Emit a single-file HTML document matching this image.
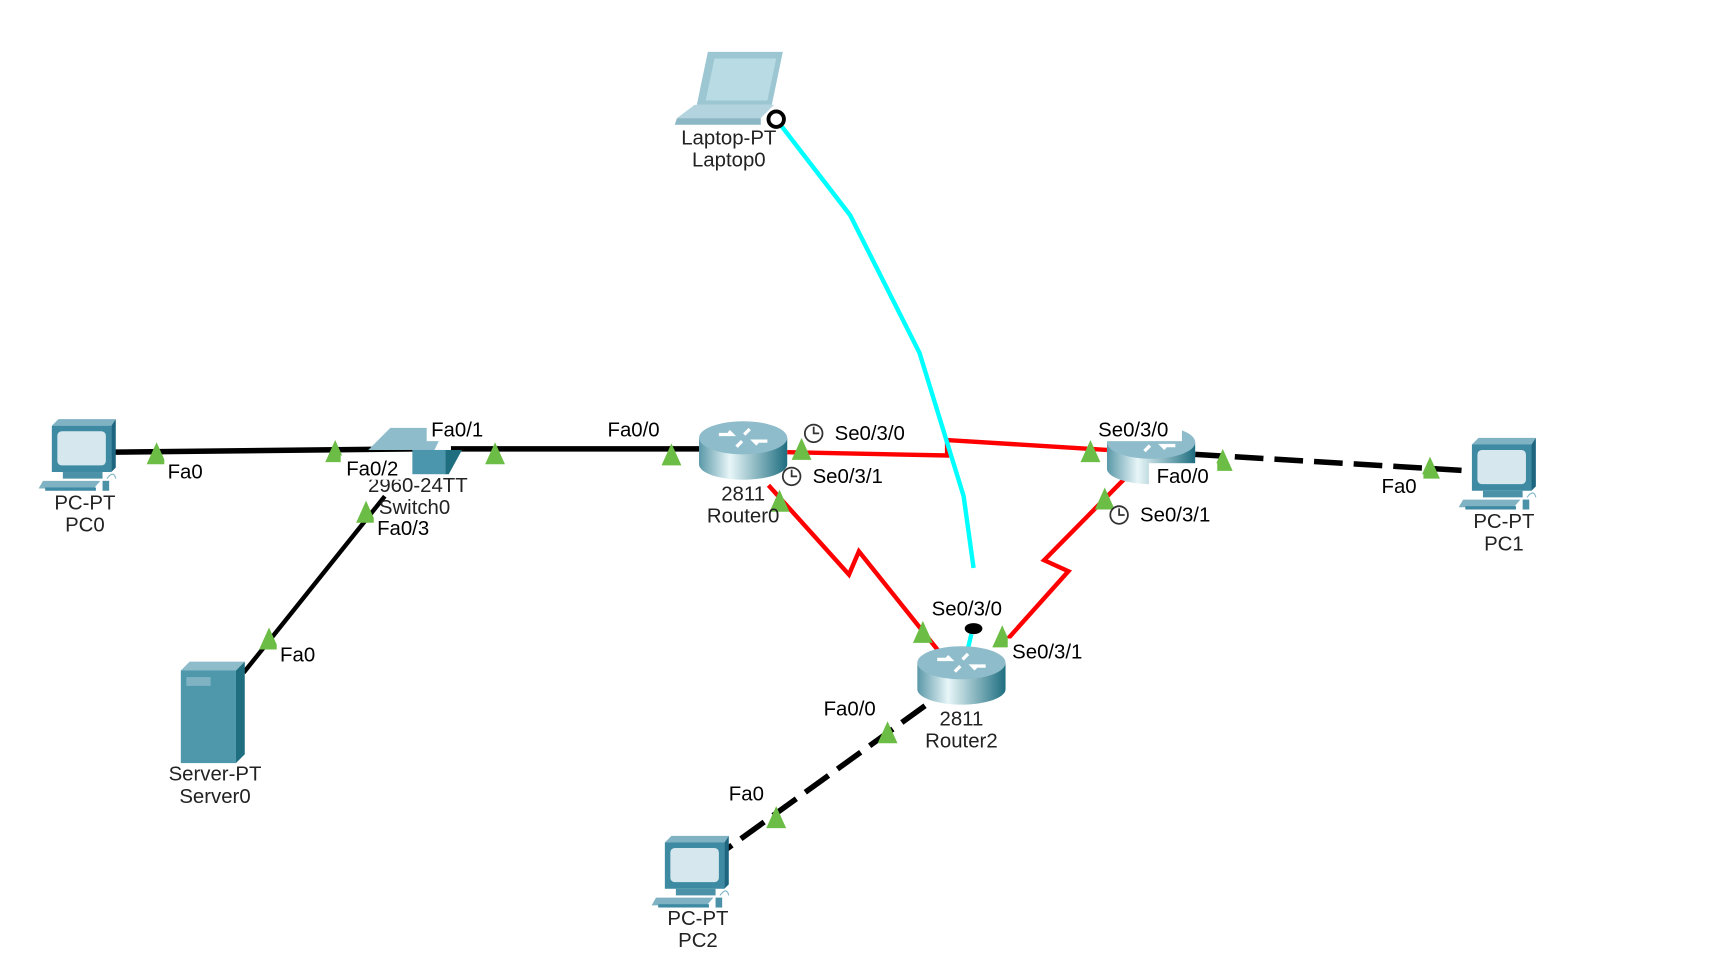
<!DOCTYPE html>
<html><head><meta charset="utf-8"><style>
html,body{margin:0;padding:0;background:#fff;width:1720px;height:976px;overflow:hidden}
svg{display:block}
text{font-family:"Liberation Sans",Arial,sans-serif;font-size:18.5px;fill:#222}
.lb{fill:#000}
</style></head><body>
<svg width="1720" height="976" viewBox="0 0 1560 885" xmlns="http://www.w3.org/2000/svg">
<defs>
<linearGradient id="rg" x1="0" x2="1" y1="0" y2="0">
<stop offset="0" stop-color="#5a98a8"/><stop offset="0.35" stop-color="#e8f6f8"/><stop offset="1" stop-color="#1e6e80"/>
</linearGradient>
<g id="router">
<path d="M-40,0 v24 a40,14 0 0,0 80,0 v-24 z" fill="url(#rg)"/>
<ellipse cx="0" cy="0" rx="40" ry="15" fill="#8fbccb"/>
<path d="M-22,-3 h12 l-3,-3 M22,3 h-12 l3,3 M6,-8 l-5,5 M-6,8 l5,-5" stroke="#fff" stroke-width="3" fill="none"/>
</g>
<g id="pc">
<path d="M0,4 l6,-6 h52 l-4,6 z" fill="#7fb3c4"/>
<rect x="0" y="4" width="54" height="42" fill="#3d8aa2"/>
<path d="M54,4 l4,-6 v44 l-4,4z" fill="#1e6680"/>
<rect x="5" y="9" width="44" height="31" rx="4" fill="#d6e8ee"/>
<rect x="10" y="46" width="36" height="6" fill="#4b91a8"/>
<path d="M-8,54 h52 l-6,7 h-50z" fill="#7fb3c4"/>
<rect x="-6" y="60" width="46" height="3" fill="#3d8aa2"/>
<rect x="46" y="54" width="6" height="9" fill="#4b91a8"/>
<path d="M50,52 q6,-8 8,0" stroke="#7fb3c4" fill="none"/>
</g>
<polygon id="tri" points="0,-11 -9,9 9,9" fill="#6cbd45"/>
</defs>
<g transform="translate(-1,0)">
<g fill="none" stroke-linejoin="miter">
<polyline points="105,410 380,407" stroke="#000" stroke-width="5"/>
<polyline points="410,407 640,407" stroke="#000" stroke-width="5"/>
<polyline points="350,450 222,610" stroke="#000" stroke-width="4"/>
<polyline points="715,410 860,413 860,399 1005,408" stroke="#f00" stroke-width="4"/>
<polyline points="698,440 771,521 780,500 852,590" stroke="#f00" stroke-width="4"/>
<polyline points="1022,433 948,508 970,518 910,585" stroke="#f00" stroke-width="4"/>
<polyline points="1085,412 1335,427" stroke="#000" stroke-width="5" stroke-dasharray="26,10"/>
<polyline points="840,640 660,770" stroke="#000" stroke-width="5" stroke-dasharray="26,10"/>
<polyline points="705,108 772,195 835,320 875,450 884,515" stroke="#0ff" stroke-width="4"/>
<polyline points="882,575 878,592" stroke="#0ff" stroke-width="4"/>
</g>
<g transform="translate(613,47)">
<path d="M30,0 h68 l-10,48 h-68z" fill="#9cc6d2"/>
<path d="M36,6 h56 l-8,38 h-56z" fill="#b8dbe4"/>
<path d="M18,48 h72 l-12,12 h-76z" fill="#b3d4de"/>
<path d="M2,60 h76 v6 h-78z" fill="#8cb7c5"/>
</g>
<circle cx="705" cy="108" r="7" fill="#fff" stroke="#000" stroke-width="3.5"/>
<use href="#pc" x="48" y="382"/>
<use href="#pc" x="1336" y="399"/>
<use href="#pc" x="604" y="760"/>
<g transform="translate(335,388)">
<path d="M20,0 h50 l-10,20 h-60z" fill="#8fbccb"/>
<rect x="40" y="20" width="30" height="22" fill="#4b96ad"/>
<path d="M70,20 h15 l-12,22 h-3z" fill="#1e6e80"/>
</g>
<g transform="translate(165,600)">
<path d="M0,8 l8,-8 h50 l-8,8z" fill="#8fbccb"/>
<rect x="0" y="8" width="50" height="84" fill="#4f98ac"/>
<path d="M50,8 l8,-8 v84 l-8,8z" fill="#1e6e80"/>
<rect x="5" y="14" width="22" height="8" fill="#7fb3c4"/>
</g>
<use href="#router" x="675" y="397"/>
<use href="#router" x="1045" y="401"/>
<use href="#router" x="873" y="601"/>
<ellipse cx="884" cy="570" rx="8" ry="5" fill="#000"/>
<use href="#tri" x="143" y="412"/><use href="#tri" x="305" y="410"/>
<use href="#tri" x="450" y="412"/><use href="#tri" x="610" y="413"/>
<use href="#tri" x="708" y="455"/><use href="#tri" x="728" y="408"/>
<use href="#tri" x="990" y="410"/><use href="#tri" x="1110" y="418"/>
<use href="#tri" x="1003" y="453"/><use href="#tri" x="1298" y="425"/>
<use href="#tri" x="838" y="574"/><use href="#tri" x="910" y="578"/>
<use href="#tri" x="806" y="665"/><use href="#tri" x="705" y="742"/>
<use href="#tri" x="245" y="580"/><use href="#tri" x="333" y="465"/>
<g text-anchor="middle">
<text x="662" y="131">Laptop-PT</text><text x="662" y="151">Laptop0</text>
<text x="78" y="462">PC-PT</text><text x="78" y="482">PC0</text>
<text x="380" y="446">2960-24TT</text><text x="377" y="466">Switch0</text>
<text x="196" y="708">Server-PT</text><text x="196" y="728">Server0</text>
<text x="675" y="454">2811</text><text x="675" y="474">Router0</text>
<text x="873" y="658">2811</text><text x="873" y="678">Router2</text>
<text x="1365" y="479">PC-PT</text><text x="1365" y="499">PC1</text>
<text x="634" y="839">PC-PT</text><text x="634" y="859">PC2</text>
</g>
<g>
<rect x="150" y="416" width="42" height="22" fill="#fff"/><text class="lb" x="153" y="434">Fa0</text>
<rect x="310" y="413" width="58" height="22" fill="#fff"/><text class="lb" x="315" y="431">Fa0/2</text>
<rect x="388" y="378" width="58" height="22" fill="#fff"/><text class="lb" x="392" y="396">Fa0/1</text>
<rect x="340" y="467" width="58" height="22" fill="#fff"/><text class="lb" x="343" y="485">Fa0/3</text>
<rect x="545" y="378" width="60" height="22" fill="#fff"/><text class="lb" x="552" y="396">Fa0/0</text>
<rect x="252" y="583" width="42" height="22" fill="#fff"/><text class="lb" x="255" y="600">Fa0</text>
<rect x="753" y="381" width="80" height="22" fill="#fff"/><text class="lb" x="758" y="399">Se0/3/0</text>
<rect x="733" y="420" width="80" height="22" fill="#fff"/><text class="lb" x="738" y="438">Se0/3/1</text>
<rect x="993" y="378" width="80" height="22" fill="#fff"/><text class="lb" x="997" y="396">Se0/3/0</text>
<rect x="1043" y="420" width="62" height="22" fill="#fff"/><text class="lb" x="1050" y="438">Fa0/0</text>
<rect x="1030" y="455" width="80" height="22" fill="#fff"/><text class="lb" x="1035" y="473">Se0/3/1</text>
<rect x="1250" y="430" width="42" height="22" fill="#fff"/><text class="lb" x="1254" y="447">Fa0</text>
<rect x="842" y="540" width="80" height="22" fill="#fff"/><text class="lb" x="846" y="558">Se0/3/0</text>
<rect x="915" y="579" width="80" height="22" fill="#fff"/><text class="lb" x="919" y="597">Se0/3/1</text>
<rect x="745" y="632" width="58" height="22" fill="#fff"/><text class="lb" x="748" y="649">Fa0/0</text>
<rect x="658" y="708" width="42" height="22" fill="#fff"/><text class="lb" x="662" y="726">Fa0</text>
</g>
<g fill="#fff" stroke="#333" stroke-width="1.6">
<circle cx="739" cy="393" r="8"/><path d="M739,387 v6 h5" fill="none"/>
<circle cx="719" cy="432" r="8"/><path d="M719,426 v6 h5" fill="none"/>
<circle cx="1016" cy="467" r="8"/><path d="M1016,461 v6 h5" fill="none"/>
</g>
</g>
</svg>
</body></html>
